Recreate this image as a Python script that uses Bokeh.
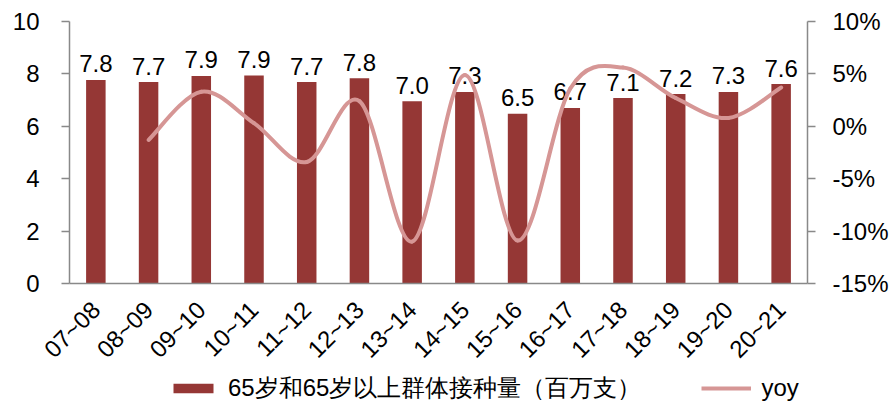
import math
from bokeh.plotting import figure
from bokeh.layouts import column
from bokeh.models import (Range1d, FactorRange, LinearAxis, FixedTicker,
                          NumeralTickFormatter, ColumnDataSource, Legend, LegendItem)
from bokeh.core.properties import value
from bokeh.embed import file_html
from bokeh.resources import INLINE

# ---------------- data ----------------
seasons = ["07~08", "08~09", "09~10", "10~11", "11~12", "12~13", "13~14",
           "14~15", "15~16", "16~17", "17~18", "18~19", "19~20", "20~21"]
doses = [7.77, 7.69, 7.92, 7.94, 7.69, 7.83, 6.96, 7.31, 6.48, 6.70, 7.08, 7.23, 7.31, 7.61]
yoy = [None, -0.013, 0.033, 0.003, -0.034, 0.024, -0.110, 0.049, -0.109,
       0.036, 0.056, 0.027, 0.008, 0.037]
left_ticks = [0, 2, 4, 6, 8, 10]
right_ticks = [-0.15, -0.10, -0.05, 0.0, 0.05, 0.10]
bar_name = "65岁和65岁以上群体接种量（百万支）"
line_name = "yoy"

# ---------------- style ----------------
BAR = "#953735"
LINE = "#D69695"
AXIS = "#898989"
FONT = "Liberation Sans"
FS = "24px"

p = figure(x_range=FactorRange(*seasons), y_range=Range1d(0, 10),
           width=892, height=375, output_backend="svg", toolbar_location=None,
           min_border_left=69, min_border_right=85, min_border_top=21,
           min_border_bottom=90)
p.extra_y_ranges = {"yoy": Range1d(-0.15, 0.10)}
p.outline_line_color = None
p.xgrid.visible = False
p.ygrid.visible = False
p.background_fill_color = "white"

labels = [f"{v:.1f}" for v in doses]
src = ColumnDataSource(dict(x=seasons, top=doses, lab=labels))
bars = p.vbar(x="x", top="top", width=0.37, source=src, fill_color=BAR, line_color=None)
p.text(x="x", y="top", text="lab", source=src, text_align="center",
       text_baseline="alphabetic", y_offset=-16, text_font=value(FONT),
       text_font_size=FS, text_color="black")

# smoothed yoy line (Catmull-Rom style Bezier segments between the data points)
pts = [(i + 0.5, v) for i, v in enumerate(yoy) if v is not None]
x0, y0, x1, y1, cx0, cy0, cx1, cy1 = ([] for _ in range(8))
n = len(pts)
for k in range(n - 1):
    pa = pts[k - 1] if k > 0 else pts[k]
    pb = pts[k]
    pc = pts[k + 1]
    pd = pts[k + 2] if k + 2 < n else pts[k + 1]
    x0.append(pb[0]); y0.append(pb[1])
    x1.append(pc[0]); y1.append(pc[1])
    cx0.append(pb[0] + (pc[0] - pa[0]) / 6); cy0.append(pb[1] + (pc[1] - pa[1]) / 6)
    cx1.append(pc[0] - (pd[0] - pb[0]) / 6); cy1.append(pc[1] - (pd[1] - pb[1]) / 6)
bsrc = ColumnDataSource(dict(x0=x0, y0=y0, x1=x1, y1=y1, cx0=cx0, cy0=cy0, cx1=cx1, cy1=cy1))
p.bezier(x0="x0", y0="y0", x1="x1", y1="y1", cx0="cx0", cy0="cy0",
         cx1="cx1", cy1="cy1", source=bsrc, y_range_name="yoy",
         line_color=LINE, line_width=4, line_cap="round")

# ---------------- axes ----------------
p.yaxis.ticker = FixedTicker(ticks=left_ticks)
ax_r = LinearAxis(y_range_name="yoy", ticker=FixedTicker(ticks=right_ticks),
                  formatter=NumeralTickFormatter(format="0%"))
p.add_layout(ax_r, "right")

for ax in [p.yaxis[0], ax_r]:
    ax.axis_line_color = AXIS
    ax.axis_line_width = 1.5
    ax.major_tick_line_color = AXIS
    ax.major_tick_line_width = 1.5
    ax.major_tick_out = 8
    ax.major_tick_in = 0
    ax.minor_tick_line_color = None
    ax.major_label_text_font = FONT
    ax.major_label_text_font_size = FS
    ax.major_label_text_color = "black"
p.yaxis[0].major_label_standoff = 22
ax_r.major_label_standoff = 17

xa = p.xaxis[0]
xa.axis_line_color = AXIS
xa.axis_line_width = 1.5
xa.major_tick_line_color = None
xa.major_tick_out = 0
xa.major_tick_in = 0
xa.minor_tick_line_color = None
xa.major_label_orientation = math.pi / 4
xa.major_label_standoff = 22
xa.major_label_text_font = FONT
xa.major_label_text_font_size = FS
xa.major_label_text_color = "black"

# ---------------- legend strip (separate figure below) ----------------
lg = figure(width=892, height=29, x_range=Range1d(0, 1), y_range=Range1d(0, 1),
            output_backend="svg", toolbar_location=None,
            x_axis_location=None, y_axis_location=None,
            min_border_left=69, min_border_right=40, min_border_top=0, min_border_bottom=0)
lg.xgrid.visible = False
lg.ygrid.visible = False
lg.outline_line_color = None
# swatch renderers kept outside the visible range: they only feed the legend
lb = lg.vbar(x=[-5], top=[-5], width=0.5, fill_color=BAR, line_color=None)
ll = lg.line(x=[-5, -4], y=[-5, -5], line_color=LINE, line_width=4)
legend = Legend(items=[LegendItem(label=bar_name, renderers=[lb]),
                       LegendItem(label=line_name, renderers=[ll])],
                orientation="horizontal", location=(99, 0),
                border_line_color=None, background_fill_alpha=0,
                label_text_font=FONT, label_text_font_size=FS,
                label_text_color="black",
                glyph_width=50, glyph_height=12, label_standoff=10,
                spacing=60, padding=0, margin=0)
lg.add_layout(legend, "center")

layout = column(p, lg, spacing=0)
open("out.html", "w").write(file_html(layout, INLINE))
